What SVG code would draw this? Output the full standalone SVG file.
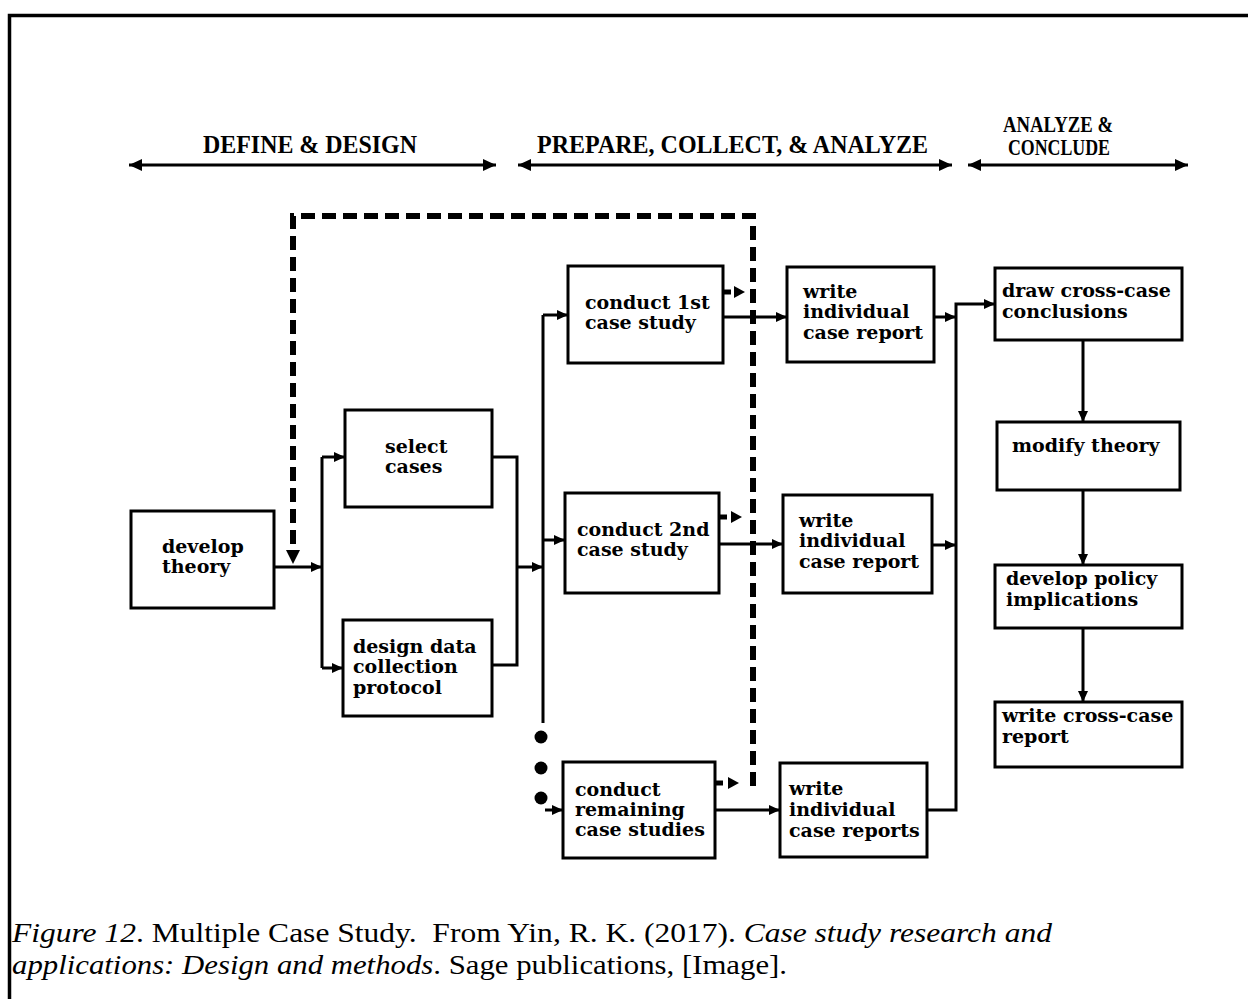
<svg xmlns="http://www.w3.org/2000/svg" width="1248" height="999" viewBox="0 0 1248 999">
<style>
.box{fill:#fff;stroke:#000;stroke-width:3}
.bt{font-family:"DejaVu Serif","Liberation Serif",serif;font-weight:bold;font-size:19px;fill:#000}
.hd{font-family:"Liberation Serif","DejaVu Serif",serif;font-weight:bold;font-size:26px;fill:#000}
.hs{font-family:"Liberation Serif","DejaVu Serif",serif;font-weight:bold;font-size:23px;fill:#000}
.ln{fill:none;stroke:#000;stroke-width:3}
.ar{fill:none;stroke:#000;stroke-width:3;marker-end:url(#ah)}
.dash{fill:none;stroke:#000;stroke-width:6;stroke-dasharray:14 7}
.cap{font-family:"Liberation Serif","Times New Roman",serif;font-size:28px;fill:#000;white-space:pre}
</style>
<defs>
<marker id="ah" markerUnits="userSpaceOnUse" markerWidth="12" markerHeight="10" refX="11" refY="5" orient="auto"><path d="M0,0 L11,5 L0,10 z" fill="#000"/></marker>
<marker id="hh" markerUnits="userSpaceOnUse" markerWidth="14" markerHeight="12" refX="13" refY="6" orient="auto-start-reverse"><path d="M0,0 L13,6 L0,12 z" fill="#000"/></marker>
</defs>
<rect width="1248" height="999" fill="#fff"/>
<path d="M9.5,999 V15.5 H1248" fill="none" stroke="#000" stroke-width="3.5"/>

<g id="headers">
<text class="hd" x="203" y="153" textLength="214" lengthAdjust="spacingAndGlyphs">DEFINE &amp; DESIGN</text>
<text class="hd" x="537" y="153" textLength="391" lengthAdjust="spacingAndGlyphs">PREPARE, COLLECT, &amp; ANALYZE</text>
<text class="hs" x="1003" y="132" textLength="110" lengthAdjust="spacingAndGlyphs">ANALYZE &amp;</text>
<text class="hs" x="1008" y="155" textLength="102" lengthAdjust="spacingAndGlyphs">CONCLUDE</text>
<line x1="129" y1="165" x2="496" y2="165" stroke="#000" stroke-width="3" marker-start="url(#hh)" marker-end="url(#hh)"/>
<line x1="518" y1="165" x2="952" y2="165" stroke="#000" stroke-width="3" marker-start="url(#hh)" marker-end="url(#hh)"/>
<line x1="968" y1="165" x2="1188" y2="165" stroke="#000" stroke-width="3" marker-start="url(#hh)" marker-end="url(#hh)"/>
</g>

<g id="connectors">
<path class="dash" d="M753,786 V216 H293 V550"/>
<path d="M286,550 L300,550 L293,564 z" fill="#000"/>
<path class="ar" d="M274,567 H322"/>
<path class="ln" d="M322,457 V668"/>
<path class="ar" d="M322,457 H345"/>
<path class="ar" d="M322,668 H343"/>
<path class="ln" d="M492,457 H517 V665 H492"/>
<path class="ar" d="M517,567 H543"/>
<path class="ln" d="M543,315 V723"/>
<path class="ar" d="M543,315 H568"/>
<path class="ar" d="M543,540 H565"/>
<path class="ar" d="M545,810 H563"/>
<circle cx="541" cy="737" r="6.5"/>
<circle cx="541" cy="768" r="6.5"/>
<circle cx="541" cy="798" r="6.5"/>
<path class="ar" d="M723,317 H787"/>
<path class="ar" d="M719,544 H783"/>
<path class="ar" d="M715,810 H780"/>
<path d="M723,292 H731" stroke="#000" stroke-width="5"/>
<path d="M734,286 L745,292 L734,298 z"/>
<path d="M719,517 H727" stroke="#000" stroke-width="5"/>
<path d="M731,511 L742,517 L731,523 z"/>
<path d="M715,783 H723" stroke="#000" stroke-width="5"/>
<path d="M728,777 L739,783 L728,789 z"/>
<path class="ar" d="M934,317 H956"/>
<path class="ar" d="M932,545 H956"/>
<path class="ar" d="M927,810 H956 V304 H995"/>
<path class="ar" d="M1083,340 V422"/>
<path class="ar" d="M1083,490 V565"/>
<path class="ar" d="M1083,628 V702"/>
</g>

<g id="develop-theory">
<rect class="box" x="131" y="511" width="143" height="97"/>
<text class="bt" x="162" y="553">develop</text>
<text class="bt" x="162" y="573">theory</text>
</g>
<g id="select-cases">
<rect class="box" x="345" y="410" width="147" height="97"/>
<text class="bt" x="385" y="453">select</text>
<text class="bt" x="385" y="473">cases</text>
</g>
<g id="design-protocol">
<rect class="box" x="343" y="620" width="149" height="96"/>
<text class="bt" x="353" y="653">design data</text>
<text class="bt" x="353" y="673">collection</text>
<text class="bt" x="353" y="694">protocol</text>
</g>
<g id="conduct-1st">
<rect class="box" x="568" y="266" width="155" height="97"/>
<text class="bt" x="585" y="309">conduct 1st</text>
<text class="bt" x="585" y="329">case study</text>
</g>
<g id="conduct-2nd">
<rect class="box" x="565" y="493" width="154" height="100"/>
<text class="bt" x="577" y="536">conduct 2nd</text>
<text class="bt" x="577" y="556">case study</text>
</g>
<g id="conduct-remaining">
<rect class="box" x="563" y="762" width="152" height="96"/>
<text class="bt" x="575" y="796">conduct</text>
<text class="bt" x="575" y="816">remaining</text>
<text class="bt" x="575" y="836">case studies</text>
</g>
<g id="write-report-1">
<rect class="box" x="787" y="267" width="147" height="95"/>
<text class="bt" x="803" y="298">write</text>
<text class="bt" x="803" y="318">individual</text>
<text class="bt" x="803" y="339">case report</text>
</g>
<g id="write-report-2">
<rect class="box" x="783" y="495" width="149" height="98"/>
<text class="bt" x="799" y="527">write</text>
<text class="bt" x="799" y="547">individual</text>
<text class="bt" x="799" y="568">case report</text>
</g>
<g id="write-reports-3">
<rect class="box" x="780" y="763" width="147" height="94"/>
<text class="bt" x="789" y="795">write</text>
<text class="bt" x="789" y="816">individual</text>
<text class="bt" x="789" y="837">case reports</text>
</g>
<g id="draw-conclusions">
<rect class="box" x="995" y="268" width="187" height="72"/>
<text class="bt" x="1002" y="297">draw cross-case</text>
<text class="bt" x="1002" y="318">conclusions</text>
</g>
<g id="modify-theory">
<rect class="box" x="997" y="422" width="183" height="68"/>
<text class="bt" x="1012" y="452">modify theory</text>
</g>
<g id="policy-implications">
<rect class="box" x="995" y="565" width="187" height="63"/>
<text class="bt" x="1006" y="585">develop policy</text>
<text class="bt" x="1006" y="606">implications</text>
</g>
<g id="write-cross-case">
<rect class="box" x="995" y="702" width="187" height="65"/>
<text class="bt" x="1002" y="722">write cross-case</text>
<text class="bt" x="1002" y="743">report</text>
</g>

<g id="caption">
<text class="cap" x="12" y="942" textLength="1040" lengthAdjust="spacingAndGlyphs"><tspan font-style="italic">Figure 12</tspan>. Multiple Case Study.  From Yin, R. K. (2017). <tspan font-style="italic">Case study research and</tspan></text>
<text class="cap" x="12" y="974" textLength="775" lengthAdjust="spacingAndGlyphs"><tspan font-style="italic">applications: Design and methods</tspan>. Sage publications, [Image].</text>
</g>
</svg>
